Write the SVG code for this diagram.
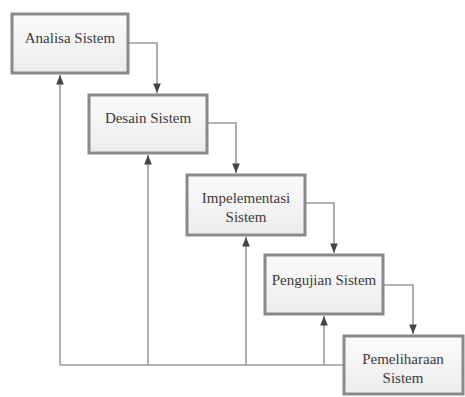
<svg xmlns="http://www.w3.org/2000/svg" width="465" height="397" viewBox="0 0 465 397">
<style>
.box{fill:url(#g);stroke:#8a8a8a;stroke-width:3}
.t{font-family:"Liberation Serif","Times New Roman",serif;font-size:15px;fill:#3a3a3a;text-anchor:middle}
.c{fill:none;stroke:#9a9a9a;stroke-width:1.6}
</style>
<defs>
<linearGradient id="g" x1="0" y1="0" x2="0" y2="1">
<stop offset="0" stop-color="#fbfbfb"/>
<stop offset="1" stop-color="#ececec"/>
</linearGradient>
<marker id="a" viewBox="0 0 10 10" refX="10" refY="5" markerWidth="6" markerHeight="6" orient="auto">
<path d="M0,1 L10,5 L0,9 Z" fill="#444"/>
</marker>
</defs>
<rect width="465" height="397" fill="#fff"/>
<g id="connectors">
<path class="c" d="M128,43 H157 V93" marker-end="url(#a)"/>
<path class="c" d="M207,123 H236 V173" marker-end="url(#a)"/>
<path class="c" d="M305,203 H334 V253" marker-end="url(#a)"/>
<path class="c" d="M383,285 H413 V334" marker-end="url(#a)"/>
<path class="c" d="M344,365 H60"/>
<path class="c" d="M60,365 V75" marker-end="url(#a)"/>
<path class="c" d="M148,365 V155" marker-end="url(#a)"/>
<path class="c" d="M246,365 V237" marker-end="url(#a)"/>
<path class="c" d="M324,365 V316" marker-end="url(#a)"/>
</g>
<g id="n1"><rect class="box" x="12" y="14" width="116" height="59"/><text class="t" x="70" y="43">Analisa Sistem</text></g>
<g id="n2"><rect class="box" x="89" y="95" width="118" height="58"/><text class="t" x="148" y="123">Desain Sistem</text></g>
<g id="n3"><rect class="box" x="187" y="175" width="118" height="60"/><text class="t" x="246" y="203">Impelementasi</text><text class="t" x="246" y="222">Sistem</text></g>
<g id="n4"><rect class="box" x="265" y="255" width="118" height="59"/><text class="t" x="324" y="285">Pengujian Sistem</text></g>
<g id="n5"><rect class="box" x="344" y="336" width="119" height="58"/><text class="t" x="403" y="364">Pemeliharaan</text><text class="t" x="403" y="383">Sistem</text></g>
</svg>
